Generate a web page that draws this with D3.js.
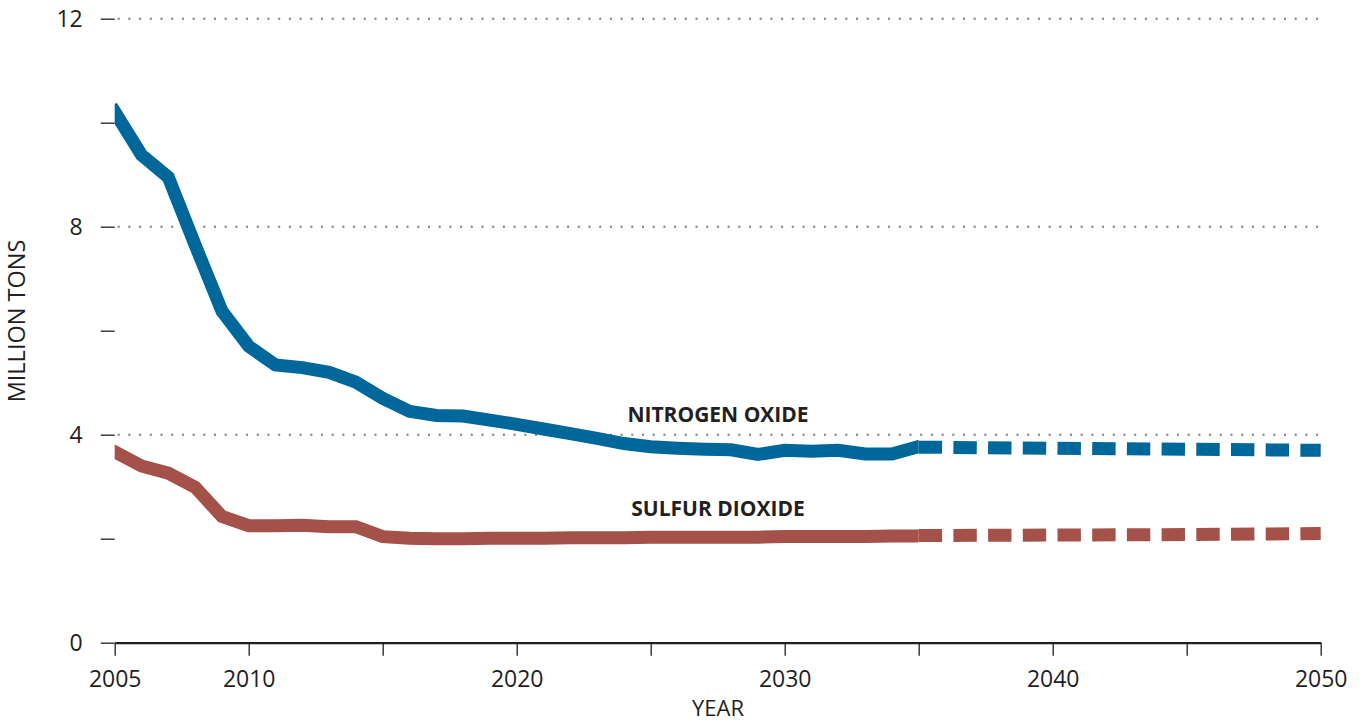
<!DOCTYPE html>
<html>
<head>
<meta charset="utf-8">
<script src="https://cdn.jsdelivr.net/npm/d3@7"></script>
<style>
  html, body { margin: 0; padding: 0; background: #fff; }
  svg { display: block; }
  text { font-family: "Open Sans", "Noto Sans", sans-serif; fill: #231f20; }
</style>
</head>
<body>
<svg id="chart" width="1364" height="723"></svg>
<script>
// ---- data ----
const years = [2005,2006,2007,2008,2009,2010,2011,2012,2013,2014,2015,2016,2017,2018,2019,2020,
               2021,2022,2023,2024,2025,2026,2027,2028,2029,2030,2031,2032,2033,2034,2035];
const noxValues = [10.21,9.38,8.95,7.65,6.38,5.70,5.34,5.29,5.20,5.01,4.70,4.45,4.37,4.36,4.28,4.20,
                   4.11,4.02,3.93,3.83,3.77,3.74,3.72,3.71,3.62,3.70,3.68,3.70,3.63,3.63,3.77];
const so2Values = [3.67,3.40,3.26,2.99,2.43,2.25,2.25,2.26,2.23,2.23,2.04,2.01,2.00,2.00,2.01,2.01,
                   2.01,2.02,2.02,2.02,2.03,2.03,2.03,2.03,2.03,2.04,2.04,2.04,2.04,2.05,2.05];
const projYears = [2035,2040,2045,2050];
const noxProj = [3.76,3.74,3.72,3.70];
const so2Proj = [2.06,2.07,2.08,2.10];
const xTicks = [2005,2010,2015,2020,2025,2030,2035,2040,2045,2050];
const xTickLabels = ["2005","2010","","2020","","2030","","2040","","2050"];
const yTicks = [0,2,4,6,8,10,12];
const yTickLabels = ["0","","4","","8","","12"];
const gridValues = [4,8,12];
const seriesNames = ["NITROGEN OXIDE","SULFUR DIOXIDE"];

// ---- layout ----
const svg = d3.select("#chart");
const x = d3.scaleLinear().domain([2005,2050]).range([114.7,1320.7]);
const y = d3.scaleLinear().domain([0,12]).range([642.7,18.7]);
const NOX = "#00679a", SO2 = "#a4514a";

// clip for the solid (historical) part
svg.append("defs").append("clipPath").attr("id","histClip")
  .append("rect").attr("x", x(2005)).attr("y", 0)
  .attr("width", x(2035) - x(2005)).attr("height", 723);

// gridlines
svg.append("g").selectAll("line").data(gridValues).join("line")
  .attr("x1", x(2005) + 3).attr("x2", x(2050))
  .attr("y1", d => y(d)).attr("y2", d => y(d))
  .attr("stroke", "#7a7a7a").attr("stroke-width", 2)
  .attr("stroke-dasharray", "2 8.7");

// y axis
const yAxis = svg.append("g").attr("transform", `translate(${x(2005)},0)`)
  .call(d3.axisLeft(y).tickValues(yTicks).tickSize(14).tickPadding(18)
        .tickFormat((d,i) => yTickLabels[i]));
yAxis.select(".domain").remove();
yAxis.selectAll(".tick line").attr("stroke", "#231f20").attr("stroke-width", 1.3);
yAxis.selectAll(".tick text").attr("font-size", 23).attr("fill", "#231f20")
  .style("font-family", '"Open Sans", sans-serif');

// lines
const line = d3.line().x(d => x(d[0])).y(d => y(d[1])).curve(d3.curveLinear);
const noxPts = years.map((yr,i) => [yr, noxValues[i]]);
const so2Pts = years.map((yr,i) => [yr, so2Values[i]]);
const noxProjPts = projYears.map((yr,i) => [yr, noxProj[i]]);
const so2ProjPts = projYears.map((yr,i) => [yr, so2Proj[i]]);

const hist = svg.append("g").attr("clip-path","url(#histClip)");
hist.append("path").datum(so2Pts).attr("d", line)
  .attr("fill","none").attr("stroke", SO2).attr("stroke-width", 13)
  .attr("stroke-linejoin","miter").attr("stroke-linecap","square");
hist.append("path").datum(noxPts).attr("d", line)
  .attr("fill","none").attr("stroke", NOX).attr("stroke-width", 13)
  .attr("stroke-linejoin","miter").attr("stroke-linecap","square");
svg.append("path").datum(so2ProjPts).attr("d", line)
  .attr("fill","none").attr("stroke", SO2).attr("stroke-width", 13)
  .attr("stroke-dasharray","23.4 11.3");
svg.append("path").datum(noxProjPts).attr("d", line)
  .attr("fill","none").attr("stroke", NOX).attr("stroke-width", 13)
  .attr("stroke-dasharray","23.4 11.3");

// x axis
const xAxis = svg.append("g").attr("transform", `translate(0,${y(0)})`)
  .call(d3.axisBottom(x).tickValues(xTicks).tickSize(13).tickPadding(14.5)
        .tickSizeOuter(0).tickFormat((d,i) => xTickLabels[i]));
xAxis.select(".domain").attr("stroke", "#231f20").attr("stroke-width", 2.2);
xAxis.selectAll(".tick line").attr("stroke", "#231f20").attr("stroke-width", 1.3);
xAxis.selectAll(".tick text").attr("font-size", 23).attr("fill", "#231f20")
  .style("font-family", '"Open Sans", sans-serif');

// axis titles
svg.append("text").attr("x", 718).attr("y", 716).attr("text-anchor","middle")
  .attr("font-size", 22).text("YEAR");
svg.append("text").attr("transform", "translate(25,321) rotate(-90)")
  .attr("text-anchor","middle").attr("font-size", 23.5).text("MILLION TONS");

// series labels
svg.append("text").attr("x", 718).attr("y", 421.5).attr("text-anchor","middle")
  .attr("font-size", 21).attr("font-weight", 700).text(seriesNames[0]);
svg.append("text").attr("x", 718).attr("y", 516).attr("text-anchor","middle")
  .attr("font-size", 21).attr("font-weight", 700).text(seriesNames[1]);
</script>
</body>
</html>
